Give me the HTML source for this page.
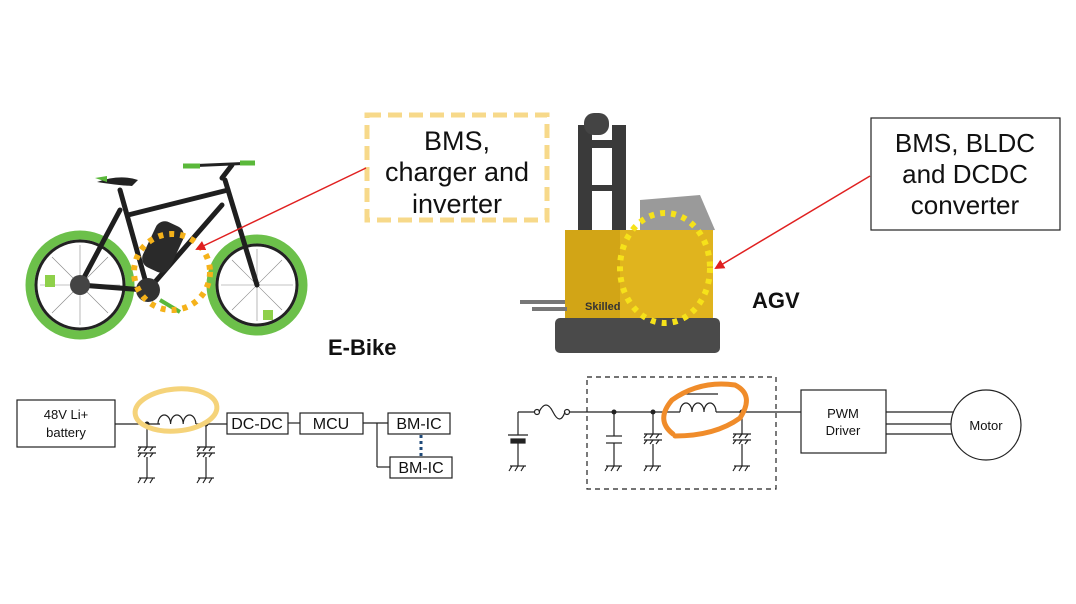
<!DOCTYPE html>
<html><head><meta charset="utf-8"><style>
html,body{margin:0;padding:0;background:#fff;}
svg{display:block;}
text{font-family:"Liberation Sans",Arial,sans-serif;}
</style></head><body>
<svg width="1076" height="604" viewBox="0 0 1076 604" xmlns="http://www.w3.org/2000/svg">
<defs>
<marker id="ar" markerWidth="10" markerHeight="10" refX="8" refY="5" orient="auto" markerUnits="userSpaceOnUse"><path d="M0,0 L10,5 L0,10 z" fill="#e02020"/></marker>
<g id="gnd" stroke="#222" stroke-width="1.2"><line x1="-8" y1="0" x2="8" y2="0"/><line x1="-6" y1="0" x2="-9" y2="5"/><line x1="0" y1="0" x2="-3" y2="5"/><line x1="6" y1="0" x2="3" y2="5"/></g>
<g id="ecap" stroke="#222" stroke-width="1.2"><line x1="-9" y1="0" x2="9" y2="0"/><line x1="-9" y1="6" x2="9" y2="6"/><line x1="-6" y1="0" x2="-9" y2="4"/><line x1="0" y1="0" x2="-3" y2="4"/><line x1="6" y1="0" x2="3" y2="4"/><line x1="-6" y1="6" x2="-9" y2="10"/><line x1="0" y1="6" x2="-3" y2="10"/><line x1="6" y1="6" x2="3" y2="10"/></g>
</defs>

<!-- Bike -->
<g fill="none">
<circle cx="80" cy="285" r="50" stroke="#6cc04a" stroke-width="9"/>
<circle cx="80" cy="285" r="44" stroke="#222" stroke-width="3"/>
<circle cx="257" cy="285" r="46" stroke="#6cc04a" stroke-width="9"/>
<circle cx="257" cy="285" r="40" stroke="#222" stroke-width="3"/>
<g stroke="#888" stroke-width="0.6">
<line x1="40" y1="285" x2="120" y2="285"/><line x1="80" y1="245" x2="80" y2="325"/><line x1="52" y1="257" x2="108" y2="313"/><line x1="52" y1="313" x2="108" y2="257"/>
<line x1="221" y1="285" x2="293" y2="285"/><line x1="257" y1="249" x2="257" y2="321"/><line x1="232" y1="260" x2="282" y2="310"/><line x1="232" y1="310" x2="282" y2="260"/>
</g>
<g stroke="#1f1f1f" stroke-width="5" stroke-linecap="round">
<line x1="80" y1="285" x2="145" y2="290"/><line x1="80" y1="285" x2="120" y2="210"/><line x1="120" y1="190" x2="148" y2="290"/>
<line x1="128" y1="215" x2="228" y2="190"/><line x1="148" y1="290" x2="222" y2="205"/><line x1="225" y1="180" x2="257" y2="285"/>
<line x1="222" y1="178" x2="232" y2="165"/>
</g>
<path d="M97 182 Q120 174 138 180 L132 186 Q115 185 97 182z" fill="#222"/>
<path d="M95 178 l12 -2 l0 6 z" fill="#5ab83a"/>
<line x1="185" y1="166" x2="255" y2="163" stroke="#222" stroke-width="3"/>
<line x1="183" y1="166" x2="200" y2="166" stroke="#5ab83a" stroke-width="5"/>
<line x1="240" y1="163" x2="255" y2="163" stroke="#5ab83a" stroke-width="5"/>
<rect x="148" y="222" width="30" height="50" rx="10" fill="#2a2a2a" transform="rotate(25 163 247)"/>
<circle cx="148" cy="290" r="12" fill="#333"/>
<circle cx="80" cy="285" r="10" fill="#444"/>
<rect x="45" y="275" width="10" height="12" fill="#8ed04a"/>
<rect x="263" y="310" width="10" height="10" fill="#8ed04a"/>
<path d="M160 300 l20 12" stroke="#5ab83a" stroke-width="4"/>
<circle cx="172" cy="272" r="38" stroke="#f5b21a" stroke-width="6" stroke-dasharray="5 6"/>
</g>

<!-- Forklift -->
<g>
<rect x="578" y="125" width="14" height="110" fill="#3a3a3a"/>
<rect x="612" y="125" width="14" height="110" fill="#3a3a3a"/>
<rect x="592" y="140" width="20" height="8" fill="#3a3a3a"/>
<rect x="592" y="185" width="20" height="6" fill="#3a3a3a"/>
<rect x="584" y="113" width="25" height="22" rx="10" fill="#444"/>
<path d="M640 200 L700 195 L715 230 L640 235z" fill="#9a9a9a"/>
<rect x="565" y="230" width="148" height="95" fill="#e0b41e"/>
<rect x="565" y="230" width="55" height="95" fill="#d2a516"/>
<rect x="555" y="318" width="165" height="35" rx="5" fill="#4a4a4a"/>
<rect x="520" y="300" width="45" height="4" fill="#777"/>
<rect x="532" y="307" width="35" height="4" fill="#777"/>
<text x="585" y="310" font-size="11" font-weight="bold" fill="#333">Skilled</text>
<ellipse cx="665" cy="268" rx="45" ry="55" fill="none" stroke="#f6e21a" stroke-width="6" stroke-dasharray="5 6"/>
</g>

<!-- callouts -->
<rect x="367" y="115" width="180" height="105" fill="#fff" stroke="#f7d98a" stroke-width="5" stroke-dasharray="14 7"/>
<text x="457" y="150" font-size="27" text-anchor="middle" fill="#111">BMS,</text>
<text x="457" y="181" font-size="27" text-anchor="middle" fill="#111">charger and</text>
<text x="457" y="213" font-size="27" text-anchor="middle" fill="#111">inverter</text>
<rect x="871" y="118" width="189" height="112" fill="#fff" stroke="#222" stroke-width="1.2"/>
<text x="965" y="152" font-size="26" text-anchor="middle" fill="#111">BMS, BLDC</text>
<text x="965" y="183" font-size="26" text-anchor="middle" fill="#111">and DCDC</text>
<text x="965" y="214" font-size="26" text-anchor="middle" fill="#111">converter</text>
<line x1="366" y1="168" x2="197" y2="249" stroke="#e02020" stroke-width="1.5" marker-end="url(#ar)"/>
<line x1="870" y1="176" x2="716" y2="268" stroke="#e02020" stroke-width="1.5" marker-end="url(#ar)"/>
<text x="328" y="355" font-size="22" font-weight="bold" fill="#111">E-Bike</text>
<text x="752" y="308" font-size="22" font-weight="bold" fill="#111">AGV</text>

<!-- left circuit -->
<g stroke="#222" stroke-width="1.2" fill="none">
<rect x="17" y="400" width="98" height="47" fill="#fff"/>
<line x1="115" y1="424" x2="160" y2="424"/>
<path d="M158 424 a6.3 9 0 0 1 12.6 0 a6.3 9 0 0 1 12.6 0 a6.3 9 0 0 1 12.6 0"/>
<line x1="196" y1="424" x2="227" y2="424"/>
<line x1="147" y1="424" x2="147" y2="447"/><line x1="147" y1="457" x2="147" y2="478"/>
<line x1="206" y1="424" x2="206" y2="447"/><line x1="206" y1="457" x2="206" y2="478"/>
<rect x="227" y="413" width="61" height="21" fill="#fff"/>
<line x1="288" y1="423" x2="300" y2="423"/>
<rect x="300" y="413" width="63" height="21" fill="#fff"/>
<line x1="363" y1="423" x2="388" y2="423"/>
<line x1="377" y1="423" x2="377" y2="467"/><line x1="377" y1="467" x2="390" y2="467"/>
<rect x="388" y="413" width="62" height="21" fill="#fff"/>
<rect x="390" y="457" width="62" height="21" fill="#fff"/>
</g>
<use href="#ecap" x="147" y="447"/><use href="#ecap" x="206" y="447"/>
<use href="#gnd" x="147" y="478"/><use href="#gnd" x="206" y="478"/>
<circle cx="147" cy="424" r="2.5" fill="#222"/><circle cx="206" cy="424" r="2.5" fill="#222"/>
<line x1="421" y1="435" x2="421" y2="457" stroke="#1f4a7a" stroke-width="3" stroke-dasharray="3 3"/>
<ellipse cx="176" cy="410" rx="41" ry="21" fill="none" stroke="#f5d37a" stroke-width="5" transform="rotate(-5 176 410)"/>
<g font-size="13" fill="#111" text-anchor="middle">
<text x="66" y="419">48V Li+</text><text x="66" y="437">battery</text>
<text x="257" y="429" font-size="16">DC-DC</text>
<text x="331" y="429" font-size="16">MCU</text>
<text x="419" y="429" font-size="16">BM-IC</text>
<text x="421" y="473" font-size="16">BM-IC</text>
</g>

<!-- right circuit -->
<g stroke="#222" stroke-width="1.2" fill="none">
<line x1="518" y1="412" x2="535" y2="412"/><line x1="518" y1="412" x2="518" y2="435"/>
<line x1="508" y1="435" x2="528" y2="435"/>
<rect x="511" y="439" width="14" height="4" fill="#222"/>
<line x1="518" y1="443" x2="518" y2="466"/>
<circle cx="537" cy="412" r="2.5"/><circle cx="567" cy="412" r="2.5"/>
<path d="M539 412 q7 -14 14 0 q7 14 12 0"/>
<line x1="569" y1="412" x2="680" y2="412"/>
<path d="M680 412 a6 9 0 0 1 12 0 a6 9 0 0 1 12 0 a6 9 0 0 1 12 0"/>
<line x1="678" y1="394" x2="718" y2="394"/>
<line x1="716" y1="412" x2="801" y2="412"/>
<rect x="587" y="377" width="189" height="112" stroke-dasharray="5 4"/>
<line x1="614" y1="412" x2="614" y2="436"/><line x1="606" y1="436" x2="622" y2="436"/><line x1="606" y1="443" x2="622" y2="443"/><line x1="614" y1="443" x2="614" y2="466"/>
<line x1="653" y1="412" x2="653" y2="434"/><line x1="653" y1="444" x2="653" y2="466"/>
<line x1="742" y1="412" x2="742" y2="434"/><line x1="742" y1="444" x2="742" y2="466"/>
<rect x="801" y="390" width="85" height="63" fill="#fff"/>
<line x1="886" y1="412" x2="953" y2="412"/><line x1="886" y1="424" x2="951" y2="424"/><line x1="886" y1="434" x2="953" y2="434"/>
<circle cx="986" cy="425" r="35" fill="#fff"/>
</g>
<use href="#ecap" x="653" y="434"/><use href="#ecap" x="742" y="434"/>
<use href="#gnd" x="518" y="466"/><use href="#gnd" x="614" y="466"/><use href="#gnd" x="653" y="466"/><use href="#gnd" x="742" y="466"/>
<circle cx="614" cy="412" r="2.5" fill="#222"/><circle cx="653" cy="412" r="2.5" fill="#222"/><circle cx="742" cy="412" r="2.5" fill="#222"/>
<path d="M673 434 Q655 420 672 400 Q700 380 735 385 Q755 395 740 418 Q715 436 675 436" fill="none" stroke="#f08c2a" stroke-width="5" stroke-linecap="round"/>
<g font-size="13" fill="#111" text-anchor="middle">
<text x="843" y="418">PWM</text><text x="843" y="435">Driver</text>
<text x="986" y="430">Motor</text>
</g>
</svg>
</body></html>
